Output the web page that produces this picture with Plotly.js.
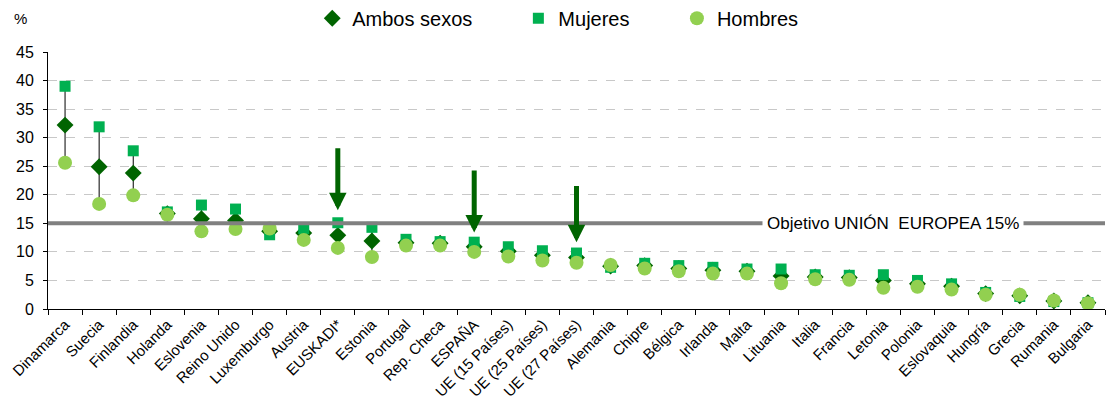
<!DOCTYPE html>
<html><head><meta charset="utf-8">
<script src="https://cdn.plot.ly/plotly-3.0.1.min.js"></script>
<style>body{margin:0;background:#fff}#chart{width:1107px;height:405px}</style>
</head><body><div id="chart"></div>
<script>
const categories = ["Dinamarca","Suecia","Finlandia","Holanda","Eslovenia","Reino Unido","Luxemburgo","Austria","EUSKADI*","Estonia","Portugal","Rep. Checa","ESPAÑA","UE (15 Países)","UE (25 Países)","UE (27 Países)","Alemania","Chipre","Bélgica","Irlanda","Malta","Lituania","Italia","Francia","Letonia","Polonia","Eslovaquia","Hungría","Grecia","Rumania","Bulgaria"];
const ambos   = [32.2,24.9,23.8,16.7,15.8,15.5,13.6,13.3,12.9,11.9,11.6,11.5,10.9,10.1,9.4,9.0,7.5,7.6,7.1,6.8,6.6,5.8,5.6,5.5,5.0,4.4,4.0,2.7,2.3,1.4,1.1];
const mujeres = [39.0,31.9,27.7,17.0,18.2,17.5,13.0,14.1,15.1,14.3,12.2,11.8,11.7,10.9,10.2,9.8,7.3,8.0,7.6,7.3,7.0,7.0,6.0,5.9,6.0,5.0,4.4,2.9,2.2,1.3,1.1];
const hombres = [25.6,18.4,19.9,16.5,13.6,14.0,14.1,12.1,10.7,9.1,11.1,11.1,10.0,9.2,8.5,8.1,7.7,7.1,6.6,6.2,6.2,4.5,5.2,5.1,3.7,3.9,3.4,2.5,2.5,1.5,1.0];
const objetivo = 15;
const arrowCats = ["EUSKADI*","ESPAÑA","UE (27 Países)"];
const arrowTop  = [28.4,24.5,21.8];
const arrowTip  = [17.3,13.4,11.7];

const FONT = "Arial, 'Liberation Sans', sans-serif";

// high-low connectors
const lx = [], ly = [];
categories.forEach((c,i)=>{ lx.push(c,c,null); ly.push(mujeres[i],hombres[i],null); });

const traces = [
  {x:lx,y:ly,mode:'lines',line:{color:'#000',width:1},showlegend:false,hoverinfo:'skip'},
  {x:categories,y:ambos,mode:'markers',name:'Ambos sexos',legend:'legend',
   marker:{symbol:'diamond',size:13,color:'#006400'}},
  {x:categories,y:mujeres,mode:'markers',name:'Mujeres',legend:'legend2',
   marker:{symbol:'square',size:11,color:'#00B050'}},
  {x:categories,y:hombres,mode:'markers',name:'Hombres',legend:'legend3',
   marker:{symbol:'circle',size:14,color:'#92D050'}}
];

const annotations = [
  {xref:'paper',yref:'paper',x:-0.034,y:1.13,text:'%',showarrow:false,font:{size:15,color:'#000'},xanchor:'left',yanchor:'middle'},
  {xref:'paper',yref:'y',x:0.799,y:objetivo,xanchor:'center',text:'Objetivo UNIÓN\u00a0 EUROPEA 15%',showarrow:false,
   bgcolor:'#fff',font:{size:17,color:'#000'},borderpad:4}
];
arrowCats.forEach((c,i)=>{
  annotations.push({x:c,y:arrowTip[i],ax:c,ay:arrowTop[i],axref:'x',ayref:'y',xref:'x',yref:'y',
    showarrow:true,arrowhead:2,arrowsize:0.7,arrowwidth:5,arrowcolor:'#006400',text:''});
});

const legBase = {orientation:'h',yref:'container',yanchor:'middle',y:0.955,xanchor:'left',
  font:{family:FONT,size:20,color:'#000'},itemwidth:30,bgcolor:'rgba(0,0,0,0)'};

const layout = {
  width:1107,height:405,
  margin:{l:48,r:2,t:52,b:96},
  paper_bgcolor:'#fff',plot_bgcolor:'#fff',
  font:{family:FONT,color:'#000'},
  showlegend:true,
  legend:Object.assign({},legBase,{x:0.25}),
  legend2:Object.assign({},legBase,{x:0.445}),
  legend3:Object.assign({},legBase,{x:0.595}),
  xaxis:{type:'category',tickangle:-45,tickfont:{size:15,family:FONT},showline:true,linecolor:'#000',linewidth:1,
    ticks:'outside',ticklen:5,tickson:'boundaries',tickcolor:'#000',showgrid:false,range:[-0.5,categories.length-0.5],automargin:false},
  yaxis:{range:[0,45],dtick:5,tickfont:{size:16,family:FONT},showline:true,linecolor:'#000',linewidth:1,
    ticks:'outside',ticklen:4,tickcolor:'#000',ticklabelstandoff:6,showgrid:true,gridcolor:'#c8c8c8',griddash:'dash',gridwidth:1,zeroline:false,automargin:false},
  shapes:[{type:'line',xref:'paper',yref:'y',x0:0,x1:1,y0:objetivo,y1:objetivo,line:{color:'#808080',width:4},layer:'above'}],
  annotations:annotations
};
Plotly.newPlot('chart',traces,layout,{displayModeBar:false,staticPlot:true});
</script></body></html>
